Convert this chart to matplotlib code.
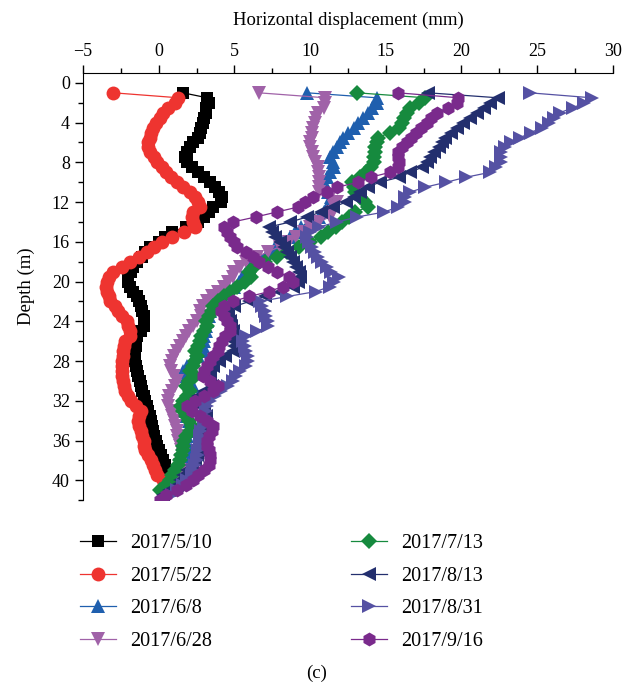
import numpy as np
import matplotlib.pyplot as plt
from matplotlib.ticker import MultipleLocator

plt.rcParams['font.family'] = ['Liberation Serif', 'DejaVu Serif']

# displacement (mm) at depth stations every 0.5 m starting at 1.0 m
d_0510 = [1.6, 3.2, 3.3, 3.1, 3.1, 3.0, 2.9, 2.8, 2.7, 2.6, 2.3, 2.1, 1.9, 1.75, 1.9, 2.2,
          2.6, 3.0, 3.4, 3.7, 4.0, 4.2, 4.1, 3.6, 3.3, 3.0, 2.6, 1.8, 0.9, 0.4, 0.0, -0.6,
          -0.9, -1.1, -1.4, -1.7, -1.8, -2.0, -2.0, -1.9, -1.7, -1.4, -1.3, -1.2, -1.1, -1.0,
          -1.0, -1.0, -1.2, -1.4, -1.5, -1.5, -1.6, -1.55, -1.55, -1.5, -1.45, -1.35, -1.25,
          -1.2, -1.1, -1.0, -0.9, -0.8, -0.7, -0.6, -0.5, -0.45, -0.35, -0.3, -0.2, -0.1, 0.0,
          0.15, 0.3, 0.45, 0.6, 0.8, 1.0, 1.1]
d_0522 = [-3.0, 1.3, 1.1, 0.6, 0.3, 0.1, -0.2, -0.4, -0.5, -0.6, -0.7, -0.7, -0.55, -0.3,
          -0.1, 0.2, 0.5, 0.8, 1.2, 1.6, 2.1, 2.4, 2.6, 2.75, 2.3, 2.2, 2.3, 2.4, 1.7, 0.9,
          0.2, -0.3, -0.8, -1.3, -1.9, -2.4, -3.0, -3.3, -3.4, -3.5, -3.4, -3.3, -3.2, -2.9,
          -2.7, -2.4, -2.1, -2.0, -1.9, -1.9, -2.2, -2.3, -2.35, -2.35, -2.4, -2.4, -2.4, -2.4,
          -2.35, -2.3, -2.2, -2.0, -1.8, -1.5, -1.2, -1.3, -1.35, -1.3, -1.2, -1.1, -1.0,
          -0.95, -0.9, -0.7, -0.5, -0.4, -0.25, -0.1, 0.3]
d_0608 = [9.8, 14.4, 14.4, 14.1, 13.8, 13.5, 13.2, 12.9, 12.5, 12.2, 12.0, 11.8, 11.5, 11.3,
          11.5, 11.55, 11.3, 11.1, 10.9, 11.0, 11.2, 11.4, 11.35, 11.1, 10.9, 10.6, 9.9, 9.4,
          9.0, 8.7, 8.2, 7.7, 7.2, 6.7, 6.3, 6.0, 5.8, 5.5, 5.3, 5.0, 4.6, 4.2, 3.8, 3.5, 3.4,
          3.3, 3.2, 3.1, 3.1, 3.0, 3.0, 2.95, 2.9, 2.6, 2.2, 1.9, 1.6, 1.6, 2.0, 2.3, 2.1, 1.8,
          1.6, 1.5, 1.6, 1.8, 2.0, 2.1, 2.0, 1.9, 1.8, 1.9, 2.0, 1.9, 1.8, 1.7, 1.5, 1.3, 1.1,
          0.9, 0.6]
d_0628 = [6.6, 11.0, 11.0, 10.9, 10.5, 10.4, 10.3, 10.2, 10.1, 10.1, 10.0, 10.0, 10.1, 10.2,
          10.3, 10.5, 10.5, 10.6, 10.6, 10.6, 10.6, 11.3, 11.8, 11.6, 11.5, 11.3, 10.6, 10.0,
          9.6, 9.1, 8.6, 8.0, 7.2, 6.5, 5.8, 5.4, 5.0, 4.9, 4.6, 4.3, 3.9, 3.5, 3.2, 2.9, 2.7,
          2.8, 2.5, 2.3, 2.0, 1.8, 1.6, 1.4, 1.2, 1.0, 0.9, 0.75, 0.8, 1.0, 1.2, 1.1, 0.9, 0.7,
          0.6, 0.6, 0.8, 0.9, 1.0, 1.1, 1.2, 1.2, 1.3, 1.4, 1.5, 1.6, 1.5, 1.4, 1.5, 1.3, 1.1,
          0.8]
d_0713 = [13.1, 17.6, 17.2, 16.6, 16.4, 16.2, 16.1, 15.9, 15.3, 14.5, 14.4, 14.3, 14.3, 14.2,
          14.2, 14.0, 13.7, 13.3, 12.8, 12.9, 13.0, 13.3, 13.6, 13.8, 13.0, 12.6, 12.1, 11.7,
          11.2, 10.7, 10.0, 9.3, 8.5, 7.8, 7.0, 6.3, 6.0, 6.1, 5.7, 5.2, 4.7, 4.3, 3.9, 3.6,
          3.5, 3.3, 3.1, 3.2, 3.0, 2.8, 2.7, 2.6, 2.4, 2.5, 2.4, 2.3, 2.1, 2.4, 2.0, 1.8, 2.1,
          1.9, 1.6, 1.5, 1.6, 1.8, 2.0, 2.2, 2.1, 1.8, 1.7, 1.6, 1.6, 1.5, 1.4, 1.3, 1.1, 0.9,
          0.75, 0.5, 0.1]
d_0813 = [17.8, 22.4, 21.9, 21.5, 21.0, 20.6, 20.1, 19.7, 19.3, 18.9, 18.7, 18.5, 18.2, 17.9,
          17.7, 17.4, 16.6, 15.9, 14.6, 13.8, 13.3, 12.9, 12.4, 11.5, 10.7, 9.8, 8.7, 7.3, 7.5,
          7.7, 8.0, 8.3, 8.5, 8.7, 8.9, 9.1, 9.3, 9.35, 9.2, 8.9, 8.0, 7.0, 6.0, 5.0, 4.5, 4.6,
          4.7, 4.8, 4.9, 4.8, 4.9, 5.0, 4.9, 4.4, 4.0, 3.6, 3.4, 3.2, 3.4, 3.5, 3.0, 2.6, 2.5,
          2.7, 3.0, 3.1, 3.0, 2.9, 2.8, 2.75, 2.9, 2.7, 2.6, 2.5, 2.4, 2.2, 1.9, 1.6, 1.4, 1.2,
          0.7, 0.3]
d_0831 = [24.5, 28.6, 28.1, 27.4, 26.5, 26.1, 25.8, 25.3, 24.6, 23.9, 23.3, 22.9, 22.6, 22.6,
          22.6, 22.3, 21.9, 20.3, 19.0, 17.6, 16.6, 16.3, 16.3, 15.8, 14.9, 13.1, 11.8, 10.6,
          10.0, 9.8, 9.9, 10.1, 10.3, 10.5, 10.8, 11.1, 11.4, 11.9, 11.6, 11.3, 10.4, 8.5, 6.7,
          6.8, 7.0, 7.1, 7.2, 7.2, 6.5, 5.8, 5.6, 5.7, 5.8, 5.9, 5.9, 5.8, 5.4, 5.1, 4.9, 4.6,
          4.1, 3.7, 3.4, 3.2, 3.1, 3.0, 3.1, 3.0, 2.8, 2.75, 2.8, 2.7, 2.6, 2.6, 2.5, 2.4, 2.3,
          2.2, 1.9, 1.6, 1.2, 0.9]
d_0916 = [15.8, 19.8, 19.7, 19.1, 18.4, 18.0, 17.7, 17.3, 17.0, 16.7, 16.4, 16.1, 15.8, 15.8,
          15.85, 15.8, 15.3, 14.0, 13.2, 11.8, 11.1, 10.2, 9.7, 9.2, 7.8, 6.4, 4.9, 4.3, 4.5,
          4.7, 5.0, 5.2, 5.8, 6.2, 6.6, 7.2, 7.8, 8.6, 8.9, 8.2, 7.3, 6.0, 4.9, 4.3, 4.1, 4.3,
          4.5, 4.7, 4.7, 4.4, 4.2, 4.0, 3.9, 3.6, 3.4, 3.2, 3.0, 2.95, 3.4, 3.9, 3.6, 3.0, 2.4,
          1.9, 2.2, 2.75, 3.2, 3.6, 3.5, 3.3, 3.2, 3.2, 3.3, 3.4, 3.4, 3.3, 3.0, 2.6, 2.3, 1.8,
          1.2, 0.5, 0.1]

labels = ['2017/5/10', '2017/5/22', '2017/6/8', '2017/6/28',
          '2017/7/13', '2017/8/13', '2017/8/31', '2017/9/16']
series = [d_0510, d_0522, d_0608, d_0628, d_0713, d_0813, d_0831, d_0916]
colors = ['#000000', '#ee3430', '#1f5fae', '#a062a8',
          '#168a3e', '#232f6e', '#5551a3', '#7a2a8c']
markers = ['s', 'o', '^', 'v', 'D', '<', '>', 'h']
sizes = [9, 10, 10, 10, 8.5, 10, 10, 10]

fig = plt.figure(figsize=(6.24, 6.88), dpi=100)
ax = fig.add_axes([0.133, 0.273, 0.849, 0.621])

for vals, lab, c, m, ms in zip(series, labels, colors, markers, sizes):
    depth = 1.0 + 0.5 * np.arange(len(vals))
    ax.plot(vals, depth, color=c, marker=m, markersize=ms, lw=0.9,
            markeredgewidth=0, label=lab)

ax.set_xlim(-5, 30)
ax.set_ylim(42, -1)
ax.xaxis.set_major_locator(MultipleLocator(5))
ax.xaxis.set_minor_locator(MultipleLocator(2.5))
ax.yaxis.set_major_locator(MultipleLocator(4))
ax.yaxis.set_minor_locator(MultipleLocator(2))
ax.xaxis.tick_top()
ax.xaxis.set_label_position('top')
ax.spines['right'].set_visible(False)
ax.spines['bottom'].set_visible(False)
ax.tick_params(which='major', length=6, width=1, labelsize=13, direction='out')
ax.tick_params(which='minor', length=3.5, width=1, direction='out')
ax.set_xlabel('Horizontal displacement (mm)', fontsize=13.5, labelpad=13)
ax.set_ylabel('Depth (m)', fontsize=13.5, labelpad=12)

fig.legend(loc='upper left', bbox_to_anchor=(0.115, 0.236), ncol=2, frameon=False,
           fontsize=14.5, handlelength=1.8, handletextpad=0.7, columnspacing=6.9,
           labelspacing=0.68, borderaxespad=0)

fig.text(0.508, 0.022, '(c)', ha='center', va='center', fontsize=13.5)

fig.savefig('out.png', dpi=100)
